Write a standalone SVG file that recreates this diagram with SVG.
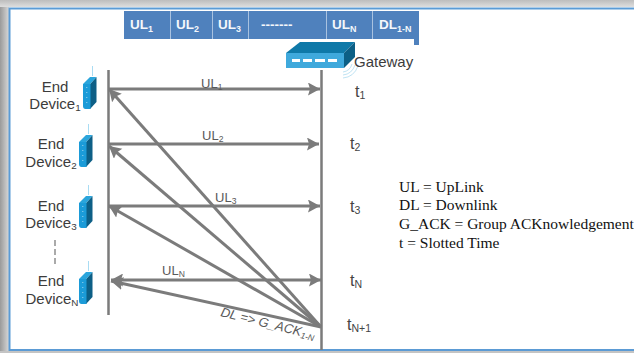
<svg xmlns="http://www.w3.org/2000/svg" width="634" height="353" viewBox="0 0 634 353">
<defs>
<marker id="ah" markerUnits="userSpaceOnUse" markerWidth="14" markerHeight="14" refX="12" refY="6.500" orient="auto"><path d="M0 0L12 6.500L0 13L2 6.500z" fill="#7b7b7b"/></marker>
<marker id="ahs" markerUnits="userSpaceOnUse" markerWidth="14" markerHeight="14" refX="0" refY="6.500" orient="auto"><path d="M12 0L0 6.500L12 13L10 6.500z" fill="#7b7b7b"/></marker>
<linearGradient id="shade" x1="0" x2="1" y1="0" y2="0"><stop offset="0" stop-color="#9a9a9a"/><stop offset="1" stop-color="#d8d8d8"/></linearGradient>
<linearGradient id="shadeT" x1="0" x2="0" y1="0" y2="1"><stop offset="0" stop-color="#bdbdbd"/><stop offset="1" stop-color="#dedede"/></linearGradient>
<g id="dev">
<path d="M9.500 -10V0" stroke="#a9dcf3" stroke-width="1" fill="none"/>
<path d="M7 8L13.500 1V26L7 33Z" fill="#0d5f86"/>
<path d="M0 8L7 1H13.500L7 8Z" fill="#2aa5dc"/>
<path d="M0 8H7.500V33H2.500Q0 33 0 30Z" fill="#1b9bd8"/>
<path d="M3.800 11V28" stroke="#bfe5f5" stroke-width="0.8" stroke-dasharray="1 4" fill="none"/>
</g>
</defs>
<style>
.s{font-family:"Liberation Sans",Arial,sans-serif;font-size:15px;fill:#3c3c3c;text-anchor:middle}
.l{font-family:"Liberation Sans",Arial,sans-serif;font-size:13px;fill:#5a5a5a}
.t{font-family:"Liberation Sans",Arial,sans-serif;font-size:16px;fill:#444}
.b{font-family:"Liberation Sans",Arial,sans-serif;font-size:13.500px;font-weight:bold;fill:#f4f7fb}
.k{font-family:"Liberation Serif","Times New Roman",serif;font-size:15.500px;fill:#111}
.sub{font-size:66%}
.cell{fill:#4f81bd}
.sep{stroke:#a9c2e0;stroke-width:1}
.c{stroke:#7b7b7b;fill:none;stroke-width:3}
</style>
<rect width="634" height="353" fill="#fff"/>
<rect x="0" y="0" width="9" height="353" fill="url(#shade)"/>
<rect x="0" y="0" width="634" height="7" fill="url(#shadeT)"/>
<rect x="0" y="351" width="634" height="2" fill="#c4c4c4"/>
<path d="M9.500 351V8.500H634M9.500 350H634" fill="none" stroke="#5b9bd5" stroke-width="2"/>

<g id="frame-bar">
<path class="cell" d="M124 11H419V45H414V39H124Z"/>
<path class="sep" d="M170.500 11V39M212.500 11V39M248.500 11V39M326.500 11V39M372.500 11V39"/>
<text class="b" x="130" y="29">UL<tspan class="sub" dy="3">1</tspan></text>
<text class="b" x="176" y="29">UL<tspan class="sub" dy="3">2</tspan></text>
<text class="b" x="218" y="29">UL<tspan class="sub" dy="3">3</tspan></text>
<text class="b" x="261" y="29">-------</text>
<text class="b" x="332" y="29">UL<tspan class="sub" dy="3">N</tspan></text>
<text class="b" x="379" y="29">DL<tspan class="sub" dy="3">1-N</tspan></text>
</g>

<g id="connectors">
<path class="c" style="stroke-width:2.500" d="M108.500 70V315M321.500 70V350"/>
<path class="c" marker-end="url(#ah)" d="M109 89H320"/>
<path class="c" marker-end="url(#ah)" d="M109 144H319"/>
<path class="c" marker-end="url(#ah)" d="M109 206H320"/>
<path class="c" marker-start="url(#ahs)" marker-end="url(#ah)" d="M111 280H321"/>
<path class="c" marker-end="url(#ah)" d="M321 327L109 89"/>
<path class="c" marker-end="url(#ah)" d="M321 327L109 146"/>
<path class="c" marker-end="url(#ah)" d="M321 327L109 206"/>
<path class="c" marker-end="url(#ah)" d="M321 327L111 281"/>
<path d="M55 240V266" stroke="#aaa" stroke-width="2" stroke-dasharray="6 3" fill="none"/>
</g>

<g id="connector-labels">
<text class="l" x="201" y="88">UL<tspan class="sub" dy="2">1</tspan></text>
<text class="l" x="202" y="140">UL<tspan class="sub" dy="2">2</tspan></text>
<text class="l" x="215" y="202">UL<tspan class="sub" dy="2">3</tspan></text>
<text class="l" x="162" y="275">UL<tspan class="sub" dy="2">N</tspan></text>
<text class="l" x="220" y="316" font-style="italic" transform="rotate(14 220 316)">DL =&gt; G_ACK<tspan class="sub" dy="2">1-N</tspan></text>
</g>

<g id="device1"><text class="s" x="55" y="92">End</text><text class="s" x="55" y="109">Device<tspan class="sub" dy="2">1</tspan></text><use href="#dev" x="83" y="76"/></g>
<g id="device2"><text class="s" x="51" y="149">End</text><text class="s" x="51" y="167">Device<tspan class="sub" dy="2">2</tspan></text><use href="#dev" x="79" y="134"/></g>
<g id="device3"><text class="s" x="51" y="211">End</text><text class="s" x="51" y="228">Device<tspan class="sub" dy="2">3</tspan></text><use href="#dev" x="79" y="195"/></g>
<g id="deviceN"><text class="s" x="51" y="286">End</text><text class="s" x="52" y="304">Device<tspan class="sub" dy="2">N</tspan></text><use href="#dev" x="79" y="271"/></g>

<g id="gateway">
<path d="M343 72Q350 71 352 64M343 75Q352 74 355 65M343 78Q354 77 358 66" fill="none" stroke="#bfe3f3" stroke-width="1"/>
<path d="M286 53L300 42H355L344 53Z" fill="#0f79a8"/>
<path d="M344 53L355 42V57L344 68Z" fill="#0c5f85"/>
<rect x="286" y="53" width="58" height="15" fill="#3fa9dc"/>
<path d="M292 60.500H300M303 60.500H312M315 60.500H325M328 60.500H337" stroke="#fff" stroke-width="3"/>
<text class="s" x="354" y="67" style="text-anchor:start">Gateway</text>
</g>

<g id="time-labels">
<text class="t" x="355" y="97">t<tspan class="sub" dy="2">1</tspan></text>
<text class="t" x="350" y="149">t<tspan class="sub" dy="2">2</tspan></text>
<text class="t" x="350" y="212">t<tspan class="sub" dy="2">3</tspan></text>
<text class="t" x="350" y="286">t<tspan class="sub" dy="2">N</tspan></text>
<text class="t" x="347" y="330">t<tspan class="sub" dy="2">N+1</tspan></text>
</g>

<g id="legend">
<text class="k" x="399" y="192">UL = UpLink</text>
<text class="k" x="399" y="210">DL = Downlink</text>
<text class="k" x="399" y="229">G_ACK = Group ACKnowledgement</text>
<text class="k" x="399" y="248">t = Slotted Time</text>
</g>
</svg>
